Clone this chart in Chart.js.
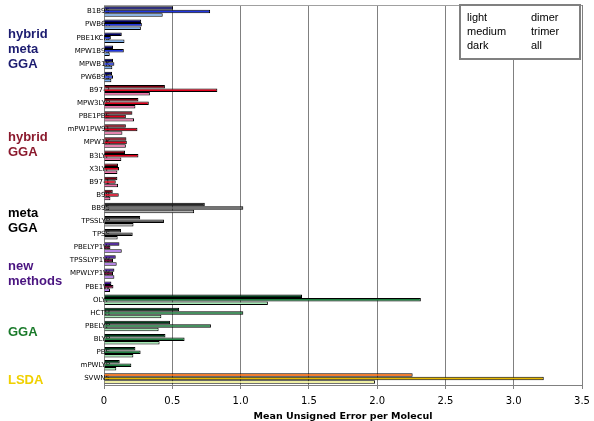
<!DOCTYPE html>
<html>
<head>
<meta charset="utf-8">
<script src="https://cdn.jsdelivr.net/npm/chart.js@4/dist/chart.umd.min.js"></script>
<style>
  body { margin: 0; background: #fff; }
</style>
</head>
<body>
<canvas id="chart" width="594" height="421"></canvas>
<script>
// functionals, top to bottom
var methods = ['B1B95', 'PWB6K', 'PBE1KCIS', 'MPW1B95', 'MPWB1K', 'PW6B95',
    'B97-2', 'MPW3LYP', 'PBE1PBE', 'mPW1PW91', 'MPW1K', 'B3LYP', 'X3LYP', 'B97-1', 'B98',
    'BB95', 'TPSSLYP', 'TPSS',
    'PBELYP1W', 'TPSSLYP1W', 'MPWLYP1W', 'PBE1W',
    'OLYP', 'HCTH', 'PBELYP', 'BLYP', 'PBE', 'mPWLYP',
    'SVWN5'];

// mean unsigned error per molecule
var allErr = [0.505, 0.272, 0.13, 0.066, 0.066, 0.059,
    0.446, 0.252, 0.208, 0.16, 0.164, 0.154, 0.103, 0.098, 0.064,
    0.738, 0.265, 0.125,
    0.113, 0.086, 0.076, 0.054,
    1.45, 0.55, 0.483, 0.45, 0.23, 0.115,
    2.26];
var trimerErr = [0.777, 0.277, 0.05, 0.145, 0.076, 0.066,
    0.83, 0.328, 0.16, 0.245, 0.167, 0.252, 0.11, 0.086, 0.108,
    1.02, 0.439, 0.21,
    0.047, 0.066, 0.066, 0.069,
    2.32, 1.02, 0.783, 0.59, 0.268, 0.2,
    3.22];
var dimerErr = [0.43, 0.27, 0.15, 0.042, 0.061, 0.054,
    0.336, 0.23, 0.22, 0.135, 0.16, 0.127, 0.098, 0.103, 0.047,
    0.66, 0.216, 0.10,
    0.13, 0.093, 0.076, 0.044,
    1.20, 0.42, 0.40, 0.407, 0.215, 0.09,
    1.985];

// groups of functionals
var groupNames = [['hybrid', 'meta', 'GGA'], ['hybrid', 'GGA'], ['meta', 'GGA'], ['new', 'methods'], ['GGA'], ['LSDA']];
var groupSizes = [6, 9, 3, 4, 6, 1];

// key text: shade -> set
var keyShades = ['light', 'medium', 'dark'];
var keySets = ['dimer', 'trimer', 'all'];

// colours per group: [dark, medium, light], and the group label colour
var groupShades = [
    ['#000066', '#2136e0', '#7aaeee'],
    ['#7a0010', '#e0001c', '#f070a8'],
    ['#262626', '#5a5a5a', '#b4b4b4'],
    ['#32008c', '#7a0a3c', '#b070f0'],
    ['#003c1a', '#1f8040', '#a4e8b4'],
    ['#ff6600', '#e6b800', '#ffff99']
];
var groupTextColors = ['#1c1c70', '#8b1a2e', '#000000', '#4a1480', '#1a7a2a', '#f0d000'];
var labelNudge = [5, 2, 0, 7, 0, 2];

function shadeFor(k) {
    var out = [];
    for (var g = 0; g < groupSizes.length; g++) {
        for (var i = 0; i < groupSizes[g]; i++) out.push(groupShades[g][k]);
    }
    return out;
}

// method names run a few px into the plot and sit under the bars, like the original
var methodLabels = {
    id: 'methodLabels',
    beforeDatasetsDraw: function (chart) {
        var ctx = chart.ctx, ys = chart.scales.y, area = chart.chartArea;
        ctx.save();
        ctx.font = '7px "DejaVu Sans"';
        ctx.fillStyle = '#000';
        ctx.textAlign = 'right';
        ctx.textBaseline = 'middle';
        for (var i = 0; i < methods.length; i++) {
            ctx.fillText(methods[i], area.left + 6, ys.getPixelForValue(i));
        }
        ctx.restore();
    }
};

var groupLabels = {
    id: 'groupLabels',
    afterDraw: function (chart) {
        var ctx = chart.ctx, ys = chart.scales.y, area = chart.chartArea;
        // top frame line
        ctx.save();
        ctx.strokeStyle = '#a0a0a0';
        ctx.lineWidth = 1;
        ctx.beginPath();
        ctx.moveTo(area.left, area.top + 0.5);
        ctx.lineTo(area.right, area.top + 0.5);
        ctx.stroke();

        ctx.font = 'bold 13px "Liberation Sans", Arial, sans-serif';
        ctx.textBaseline = 'middle';
        ctx.textAlign = 'left';
        var start = 0;
        for (var g = 0; g < groupNames.length; g++) {
            var end = start + groupSizes[g] - 1;
            var mid = (ys.getPixelForValue(start) + ys.getPixelForValue(end)) / 2;
            var lines = groupNames[g];
            var y0 = mid - (lines.length - 1) * 15 / 2 + labelNudge[g];
            ctx.fillStyle = groupTextColors[g];
            for (var l = 0; l < lines.length; l++) ctx.fillText(lines[l], 8, y0 + l * 15);
            start = end + 1;
        }

        // key box, top right
        var bx = area.right - 122, by = 5;
        ctx.fillStyle = '#fff';
        ctx.fillRect(bx, by, 120, 54);
        ctx.strokeStyle = '#808080';
        ctx.lineWidth = 2;
        ctx.strokeRect(bx, by, 120, 54);
        ctx.fillStyle = '#000';
        ctx.font = '11px "Liberation Sans", Arial, sans-serif';
        for (var k = 0; k < keyShades.length; k++) {
            ctx.fillText(keyShades[k], bx + 7, by + 13 + k * 14);
            ctx.fillText(keySets[k], bx + 71, by + 13 + k * 14);
        }
        ctx.restore();
    }
};

var chart = new Chart(document.getElementById('chart'), {
    type: 'bar',
    data: {
        labels: methods,
        datasets: [
            { label: 'all', data: allErr, backgroundColor: shadeFor(0) },
            { label: 'trimer', data: trimerErr, backgroundColor: shadeFor(1) },
            { label: 'dimer', data: dimerErr, backgroundColor: shadeFor(2) }
        ]
    },
    options: {
        indexAxis: 'y',
        responsive: false,
        animation: false,
        layout: { padding: { top: 5, right: 12, left: 0, bottom: 0 } },
        datasets: {
            bar: { borderColor: '#000', borderWidth: 1, categoryPercentage: 0.8, barPercentage: 1.0 }
        },
        plugins: { legend: { display: false }, tooltip: { enabled: false } },
        scales: {
            x: {
                min: 0, max: 3.5,
                ticks: { stepSize: 0.5, color: '#000', padding: 6, font: { family: 'DejaVu Sans', size: 10 } },
                grid: { color: '#808080', tickLength: 4, tickColor: '#808080' },
                border: { color: '#808080' },
                title: {
                    display: true, text: 'Mean Unsigned Error per Molecul', color: '#000',
                    font: { family: 'DejaVu Sans', size: 9.5, weight: 'bold' },
                    padding: { top: 2, bottom: -1 }
                },
                afterFit: function (scale) {
                    scale.height = 36;
                    scale.paddingLeft = 0;
                    scale.paddingRight = 0;
                }
            },
            y: {
                ticks: { display: false },
                grid: { display: false },
                border: { color: '#808080' },
                afterFit: function (scale) { scale.width = 104; }
            }
        }
    },
    plugins: [methodLabels, groupLabels]
});
</script>
</body>
</html>
